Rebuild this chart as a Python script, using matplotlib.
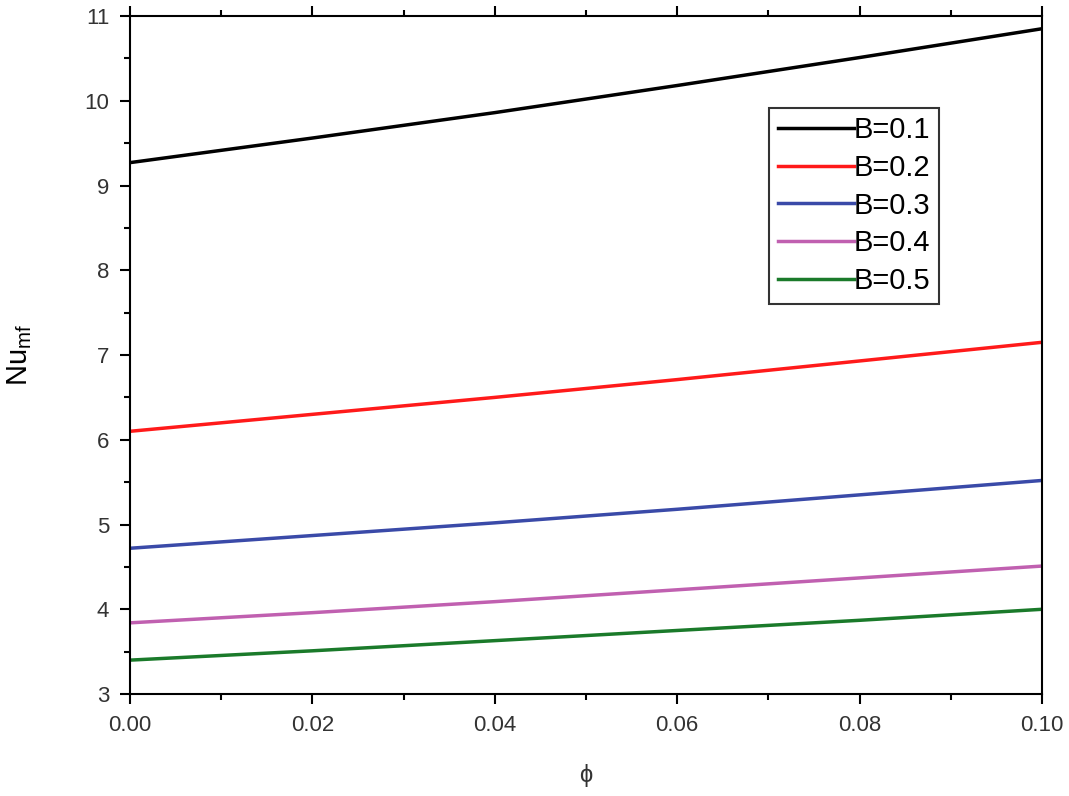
import numpy as np
import matplotlib.pyplot as plt
from matplotlib.ticker import MultipleLocator

plt.rcParams['font.family'] = ['Liberation Sans', 'DejaVu Sans']

# Data
phi = [0.00, 0.02, 0.04, 0.06, 0.08, 0.10]
nu_b01 = [9.27, 9.56, 9.86, 10.18, 10.51, 10.85]
nu_b02 = [6.10, 6.30, 6.50, 6.71, 6.93, 7.15]
nu_b03 = [4.72, 4.87, 5.02, 5.18, 5.35, 5.52]
nu_b04 = [3.84, 3.96, 4.09, 4.23, 4.37, 4.51]
nu_b05 = [3.40, 3.51, 3.63, 3.75, 3.87, 4.00]

series = [nu_b01, nu_b02, nu_b03, nu_b04, nu_b05]
labels = ['B=0.1', 'B=0.2', 'B=0.3', 'B=0.4', 'B=0.5']
colors = ['black', '#ff1a1a', '#3a4aa8', '#c060b0', '#1a7a2a']

fig = plt.figure(figsize=(10.69, 7.96), dpi=100)
ax = fig.add_axes([0.1216, 0.1281, 0.8532, 0.8518])

for y, lab, c in zip(series, labels, colors):
    ax.plot(phi, y, color=c, lw=2.5, label=lab)

ax.set_xlim(0, 0.10)
ax.set_ylim(3, 11)
ax.xaxis.set_major_locator(MultipleLocator(0.02))
ax.xaxis.set_minor_locator(MultipleLocator(0.01))
ax.yaxis.set_major_locator(MultipleLocator(1))
ax.yaxis.set_minor_locator(MultipleLocator(0.5))
ax.xaxis.set_major_formatter(plt.FormatStrFormatter('%.2f'))

ax.tick_params(which='both', direction='out', top=True, right=False, width=1.5)
ax.tick_params(which='major', length=7, colors='black', labelcolor='#333333', pad=8)
ax.tick_params(axis='y', which='major', labelsize=16)
ax.tick_params(axis='x', which='major', labelsize=16)
ax.tick_params(which='minor', length=4)
for sp in ax.spines.values():
    sp.set_linewidth(1.5)

ax.set_xlabel('ϕ', fontsize=17, labelpad=20, color='#333333')
ax.set_ylabel(r'Nu$_{\mathregular{mf}}$', fontsize=21, labelpad=36)

leg = ax.legend(loc='upper left', bbox_to_anchor=(0.701, 0.865), fontsize=21,
                frameon=True, fancybox=False, edgecolor='black', handlelength=2.6,
                handletextpad=0.0, labelspacing=0.33, borderpad=0.3, borderaxespad=0)
leg.get_frame().set_linewidth(1.5)

fig.savefig('out.png', dpi=100)
